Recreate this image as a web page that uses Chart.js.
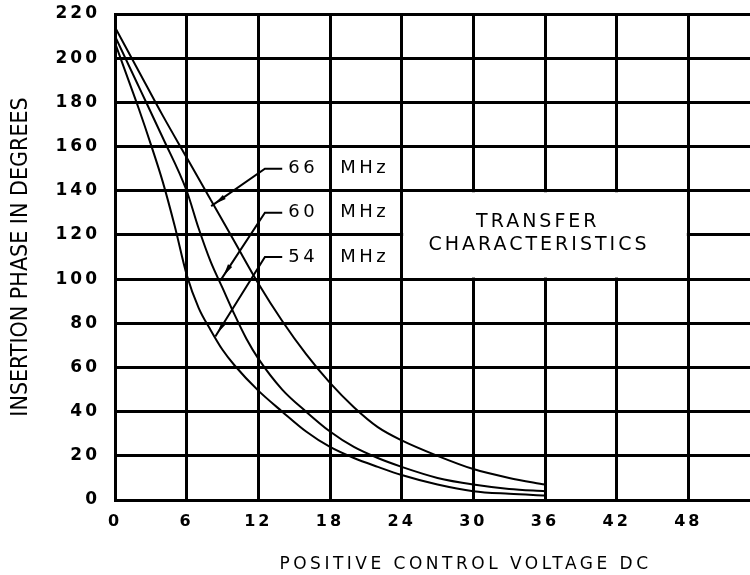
<!DOCTYPE html>
<html>
<head>
<meta charset="utf-8">
<script src="https://cdn.jsdelivr.net/npm/chart.js@4/dist/chart.umd.min.js"></script>
<style>
html,body{margin:0;padding:0;background:#fff;overflow:hidden}
#wrap{width:760px;height:575px;position:relative}
</style>
</head>
<body>
<div id="wrap"><canvas id="c"></canvas></div>
<script>
// ---- data ----
const voltage66 = [0,2,4,6,8,10,12,14,16,18,20,22,24,27,30,33,36];
const phase66   = [214,194,174,155,136,117,98,81,66,53,42,33,27,20,14,10,7];
const voltage60 = [0,2,4,6,7,8,9,10,11,12,14,16,18,20,22,24,27,30,33,36];
const phase60   = [210,187,164,140,123,108,96,84,73,64,50,40,31,24,19,15,10,7,5,4];
const voltage54 = [0,1,2,3,4,5,6,7,8,9,10,12,14,16,18,20,22,24,27,30,33,36];
const phase54   = [207,192,177,161,144,124,102,87,77,68,61,49.5,40,31,24,19,15,11.3,7,4,2.8,2];
const xTicks = [0,6,12,18,24,30,36,42,48];
const yTicks = [0,20,40,60,80,100,120,140,160,180,200,220];
const seriesNumbers = ['66','60','54'];
const unitText = 'MHz';
const boxLines = ['TRANSFER','CHARACTERISTICS'];
const xTitle = 'POSITIVE CONTROL VOLTAGE DC';
const yTitle = 'INSERTION PHASE IN DEGREES';

// annotation anchors in data units
const labelRows = [150,130,110];
const leaderStartX = 12.55, leaderEndX = 14.0, numberX = 15.75, unitX = 20.9;
const arrowTips = [[8.05,133],[8.9,100],[8.4,74]];
const boxRange = {x0:24, x1:48, y0:100, y1:140};
const boxTextAt = [[35.4,125.8],[35.5,115.4]];

const toPts = (xs, ys) => xs.map((x,i)=>({x, y: ys[i]}));

const spacingPlugin = {
  id:'spacing',
  beforeLayout(chart){ chart.ctx.letterSpacing = '3px'; },
  beforeDraw(chart){
    chart.ctx.letterSpacing = '3px';
    const ys = chart.scales.y, xs = chart.scales.x;
    if (ys && !ys.__patched){
      const orig = ys.drawTitle;
      ys.drawTitle = function(){ const c=this.ctx; const p=c.letterSpacing; c.letterSpacing='0px'; orig.apply(this, arguments); c.letterSpacing=p; };
      ys.__patched = true;
    }
    if (xs && !xs.__patched){
      const origX = xs.drawTitle;
      xs.drawTitle = function(){ const c=this.ctx; c.save(); c.letterSpacing='3.5px'; c.translate(28,0); origX.apply(this, arguments); c.restore(); };
      xs.__patched = true;
    }
  }
};

const annotPlugin = {
  id:'annot',
  beforeDatasetsDraw(chart){
    const {ctx, scales:{x, y}} = chart;
    ctx.save();
    ctx.fillStyle = '#fff';
    const l = x.getPixelForValue(boxRange.x0)+1.5, r = x.getPixelForValue(boxRange.x1)-1.5;
    const t = y.getPixelForValue(boxRange.y1)+1.5, b = y.getPixelForValue(boxRange.y0)-1.5;
    ctx.fillRect(l, t, r-l, b-t);
    ctx.restore();
  },
  afterDatasetsDraw(chart){
    const {ctx, scales:{x, y}} = chart;
    ctx.save();
    ctx.strokeStyle = '#000'; ctx.fillStyle = '#000'; ctx.lineWidth = 2;
    ctx.font = '18px "DejaVu Sans"';
    ctx.letterSpacing = '3.5px';
    ctx.textBaseline = 'middle'; ctx.textAlign = 'center';
    seriesNumbers.forEach((num, i) => {
      const py = y.getPixelForValue(labelRows[i]);
      const x0 = x.getPixelForValue(leaderStartX), x1 = x.getPixelForValue(leaderEndX);
      const tx = x.getPixelForValue(arrowTips[i][0]), ty = y.getPixelForValue(arrowTips[i][1]);
      ctx.beginPath();
      ctx.moveTo(x1, py); ctx.lineTo(x0, py); ctx.lineTo(tx, ty);
      ctx.stroke();
      const dx = tx - x0, dy = ty - py, len = Math.hypot(dx, dy);
      const ux = dx/len, uy = dy/len;
      const hx = tx - ux*4, hy = ty - uy*4;
      const bx = hx - ux*12, by = hy - uy*12;
      ctx.beginPath();
      ctx.moveTo(hx, hy);
      ctx.lineTo(bx - uy*2.5, by + ux*2.5);
      ctx.lineTo(bx + uy*2.5, by - ux*2.5);
      ctx.closePath(); ctx.fill();
      ctx.fillText(num, x.getPixelForValue(numberX), py);
      ctx.fillText(unitText, x.getPixelForValue(unitX), py);
    });
    ctx.font = '19px "DejaVu Sans"';
    ctx.letterSpacing = '3px';
    boxLines.forEach((txt, i) => {
      ctx.fillText(txt, x.getPixelForValue(boxTextAt[i][0]), y.getPixelForValue(boxTextAt[i][1]));
    });
    ctx.restore();
  }
};

const lineStyle = {borderColor:'#000', borderWidth:2, pointRadius:0, fill:false, cubicInterpolationMode:'monotone'};

new Chart(document.getElementById('c'), {
  type:'line',
  data:{
    datasets:[
      {label:'66 MHz', data: toPts(voltage66, phase66), ...lineStyle},
      {label:'60 MHz', data: toPts(voltage60, phase60), ...lineStyle},
      {label:'54 MHz', data: toPts(voltage54, phase54), ...lineStyle}
    ]
  },
  options:{
    responsive:true, maintainAspectRatio:false, animation:false,
    devicePixelRatio:1,
    layout:{autoPadding:false, padding:{top:14, left:0, right:0, bottom:0}},
    plugins:{legend:{display:false}, tooltip:{enabled:false}},
    scales:{
      x:{
        type:'linear', min:0, max:54,
        afterBuildTicks(s){ s.ticks = xTicks.map(v=>({value:v})); },
        afterFit(s){ s.height = 75; s.paddingLeft = 0; s.paddingRight = 0; },
        grid:{color:'#000', lineWidth:3, drawTicks:false},
        border:{color:'#000', width:3},
        ticks:{color:'#000', padding:12, font:{family:'DejaVu Sans', weight:'bold', size:16}, maxRotation:0},
        title:{display:true, text:xTitle, color:'#000', font:{family:'DejaVu Sans', size:17}, padding:{top:0,bottom:0}}
      },
      y:{
        type:'linear', min:0, max:220,
        afterBuildTicks(s){ s.ticks = yTicks.map(v=>({value:v})); },
        afterFit(s){ s.width = 115; s.paddingTop = 0; s.paddingBottom = 0; },
        grid:{color:'#000', lineWidth:3, drawTicks:false},
        border:{color:'#000', width:3},
        ticks:{color:'#000', padding:15, font:{family:'DejaVu Sans', weight:'bold', size:17}},
        title:{display:true, text:yTitle, color:'#000', font:{family:'"Liberation Sans Narrow", "DejaVu Sans Condensed", "Roboto Condensed", sans-serif', size:23}, padding:{top:7,bottom:0}}
      }
    }
  },
  plugins:[spacingPlugin, annotPlugin]
});
</script>
</body>
</html>
